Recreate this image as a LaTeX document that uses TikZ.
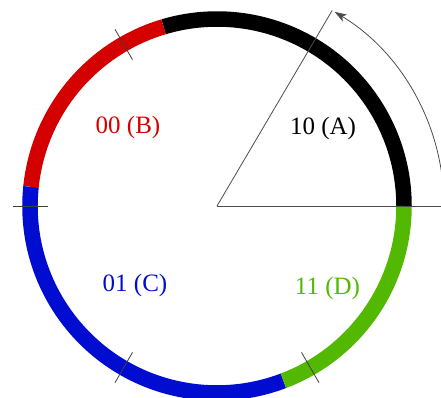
\documentclass[tikz,border=0pt]{standalone}
\usepackage{fontspec}
\setmainfont{Liberation Serif}
\usetikzlibrary{arrows.meta}
\definecolor{ringred}{RGB}{212,0,0}
\definecolor{ringblue}{RGB}{0,12,208}
\definecolor{ringgreen}{RGB}{82,184,0}
\begin{document}
\begin{tikzpicture}[x=1pt,y=1pt,
  band/.style={line width=15.5pt,line cap=butt},
  thin/.style={draw=black!70,line width=0.8pt},
  tick/.style={draw=black!75,line width=0.8pt},
  lbl/.style={anchor=base,inner sep=0pt,font=\fontsize{25}{30}\selectfont}]
\useasboundingbox (-217,-192) rectangle (224,206);
\clip (-217,-192) rectangle (224,206);
\coordinate (O) at (0,0);
% ring segments
\draw[band,black] (0:187) arc[start angle=0,end angle=106.6,radius=187];
\draw[band,ringred] (106.6:187) arc[start angle=106.6,end angle=174.1,radius=187];
\draw[band,ringblue] (174.1:187) arc[start angle=174.1,end angle=290.8,radius=187];
\draw[band,ringgreen] (290.8:187) arc[start angle=290.8,end angle=360,radius=187];
% radial lines
\coordinate (R0) at (0:240);
\coordinate (R60) at (59.5:227);
\draw[thin] (O) -- (R0);
\draw[thin] (O) -- (R60);
% ticks
\foreach \a in {120,180,240,300}{
  \coordinate (Ti\a) at (\a:169);
  \coordinate (To\a) at (\a:204);
  \draw[tick] (Ti\a) -- (To\a);
}
% angle arrow
\coordinate (A0) at (0:227);
\draw[thin,-{Stealth[length=12pt,width=8pt,inset=3pt]}] (A0) arc[start angle=0,end angle=58.8,radius=227];
% labels
\node[lbl,black] (A) at (106,71.7) {10 (A)};
\node[lbl,ringred] (B) at (-89,72) {00 (B)};
\node[lbl,ringblue] (C) at (-82,-85.7) {01 (C)};
\node[lbl,ringgreen] (D) at (110.5,-88.3) {11 (D)};
\end{tikzpicture}
\end{document}
